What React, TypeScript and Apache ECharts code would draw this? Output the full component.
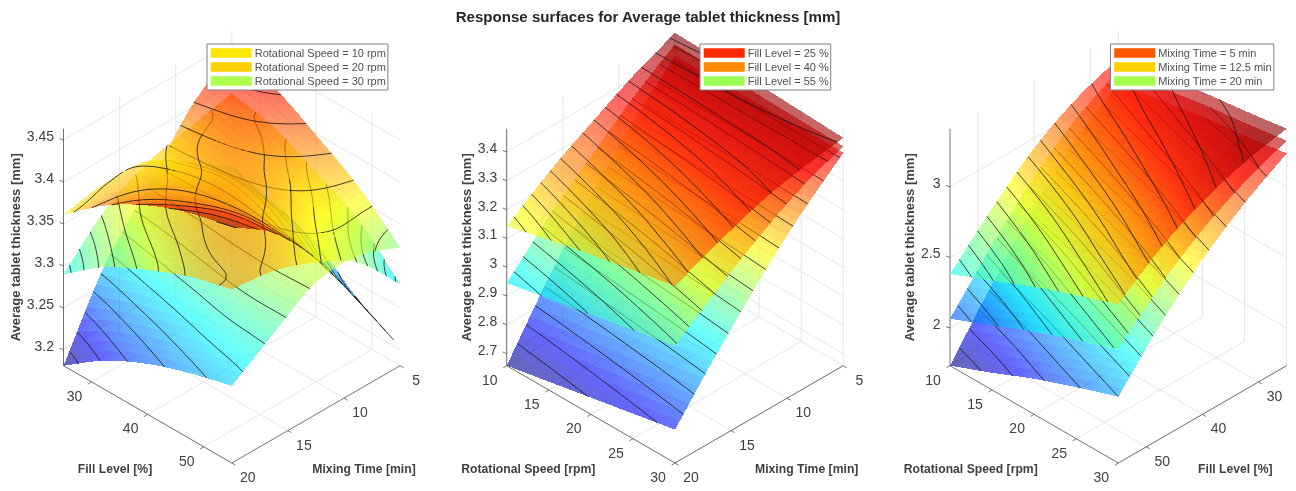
import React, { useEffect, useRef } from "react";
import * as echarts from "echarts";

// ---------- axis ticks ----------
const fillTicks = [30, 40, 50];
const mixTicks = [5, 10, 15, 20];
const speedTicks = [10, 15, 20, 25, 30];
const zTicks1 = [3.2, 3.25, 3.3, 3.35, 3.4, 3.45];
const zTicks2 = [2.7, 2.8, 2.9, 3, 3.1, 3.2, 3.3, 3.4];
const zTicks3 = [2, 2.5, 3];

// ---------- panel 1: rows mix 20..5, columns fill 25..55 ----------
const speed30Rows = [
  [3.181, 3.216, 3.241, 3.259, 3.273],
  [3.274, 3.287, 3.297, 3.305, 3.307],
  [3.335, 3.337, 3.34, 3.34, 3.338],
  [3.4, 3.39, 3.375, 3.358, 3.341],
  [3.44, 3.426, 3.398, 3.366, 3.322],
];
const speed10Rows = [
  [3.29, 3.3275, 3.353, 3.374, 3.388],
  [3.338, 3.363, 3.38, 3.39, 3.381],
  [3.365, 3.38, 3.392, 3.38, 3.362],
  [3.378, 3.392, 3.38, 3.358, 3.333],
  [3.39, 3.378, 3.353, 3.326, 3.278],
];
const speed20Rows = [
  [3.361, 3.401, 3.43, 3.45, 3.462],
  [3.37, 3.39, 3.405, 3.42, 3.426],
  [3.367, 3.375, 3.378, 3.375, 3.367],
  [3.336, 3.345, 3.335, 3.31, 3.288],
  [3.303, 3.288, 3.269, 3.231, 3.203],
];
const speed30Levels = [3.194, 3.212, 3.23, 3.249, 3.265, 3.282, 3.3, 3.317, 3.335, 3.352, 3.37, 3.387, 3.405, 3.422];
const speed10Levels = [3.284, 3.297, 3.309, 3.322, 3.334, 3.347, 3.359, 3.372, 3.384];
const speed20Levels = [3.216, 3.233, 3.25, 3.268, 3.285, 3.302, 3.32, 3.337, 3.354, 3.371, 3.389, 3.406, 3.423, 3.441, 3.458];

// ---------- panel 2: rows mix 20..5, columns speed 10..30 ----------
const fill55Rows = [
  [2.658, 2.687, 2.716, 2.745, 2.774],
  [2.88, 2.899, 2.918, 2.936, 2.955],
  [3.075, 3.087, 3.099, 3.11, 3.122],
  [3.25, 3.255, 3.26, 3.265, 3.27],
  [3.395, 3.396, 3.396, 3.397, 3.397],
];
const fill40Rows = [
  [2.945, 2.975, 3.005, 3.035, 3.064],
  [3.09, 3.111, 3.132, 3.154, 3.175],
  [3.215, 3.23, 3.245, 3.26, 3.275],
  [3.335, 3.341, 3.348, 3.354, 3.36],
  [3.436, 3.432, 3.428, 3.424, 3.42],
];
const fill25Rows = [
  [3.142, 3.18, 3.212, 3.243, 3.272],
  [3.245, 3.268, 3.29, 3.313, 3.335],
  [3.33, 3.345, 3.36, 3.375, 3.39],
  [3.41, 3.414, 3.418, 3.421, 3.425],
  [3.476, 3.47, 3.464, 3.457, 3.449],
];
const fill55Levels = [2.714, 2.762, 2.81, 2.858, 2.906, 2.953, 3.001, 3.051, 3.099, 3.147, 3.195, 3.243, 3.291, 3.339, 3.387];
const fill40Levels = [2.97, 3.003, 3.036, 3.069, 3.102, 3.135, 3.168, 3.201, 3.234, 3.267, 3.3, 3.333, 3.366, 3.399, 3.432];
const fill25Levels = [3.16, 3.182, 3.204, 3.226, 3.248, 3.27, 3.292, 3.314, 3.336, 3.358, 3.38, 3.402, 3.424, 3.446, 3.468];

// ---------- panel 3: rows fill 55..25, columns speed 10..30 ----------
const mix20Rows = [
  [1.734, 1.856, 1.985, 2.098, 2.204],
  [2.139, 2.241, 2.342, 2.444, 2.545],
  [2.519, 2.597, 2.675, 2.752, 2.83],
  [2.816, 2.876, 2.936, 2.995, 3.055],
  [3.044, 3.098, 3.152, 3.192, 3.237],
];
const mix12Rows = [
  [2.066, 2.191, 2.32, 2.433, 2.541],
  [2.414, 2.516, 2.617, 2.719, 2.82],
  [2.729, 2.807, 2.885, 2.962, 3.04],
  [2.966, 3.026, 3.086, 3.145, 3.205],
  [3.134, 3.188, 3.242, 3.282, 3.327],
];
const mix5Rows = [
  [2.383, 2.508, 2.637, 2.75, 2.859],
  [2.674, 2.776, 2.877, 2.979, 3.08],
  [2.929, 3.007, 3.085, 3.162, 3.24],
  [3.106, 3.166, 3.226, 3.285, 3.345],
  [3.219, 3.273, 3.327, 3.367, 3.412],
];
const mix20Levels = [1.824, 1.919, 2.014, 2.109, 2.204, 2.299, 2.394, 2.489, 2.584, 2.679, 2.774, 2.869, 2.964, 3.059, 3.154];
const mix12Levels = [2.13, 2.21, 2.29, 2.37, 2.45, 2.53, 2.61, 2.69, 2.77, 2.85, 2.93, 3.01, 3.09, 3.17, 3.25];
const mix5Levels = [2.448, 2.512, 2.576, 2.64, 2.704, 2.768, 2.832, 2.896, 2.96, 3.024, 3.088, 3.152, 3.216, 3.28, 3.344];

// ---------- legends ----------
const legendNames1 = ["Rotational Speed = 10 rpm", "Rotational Speed = 20 rpm", "Rotational Speed = 30 rpm"];
const legendNames2 = ["Fill Level = 25 %", "Fill Level = 40 %", "Fill Level = 55 %"];
const legendNames3 = ["Mixing Time = 5 min", "Mixing Time = 12.5 min", "Mixing Time = 20 min"];

const FONT = '"Liberation Sans", Arial, sans-serif';
const TEXT = "#404040";
const SUB = 36;
const K = 2.435; // box height over the floor's half depth
const ALPHA = 0.6;

type Panel = {
  left: number;
  zMin: number;
  zMax: number;
  zTicks: number[];
  aTicks: number[];
  aPos: (v: number) => number;
  bTicks: number[];
  bPos: (v: number) => number;
  zTitleX: number;
  aTitle: string;
  aTitleX: number;
  bTitle: string;
  bTitleX: number;
  surfaces: { name: string; color: string; rows: number[][]; levels: number[] }[];
  legendNames: string[];
  legendLeft: number;
};

const fillA = (v: number) => (v - 25) / 30;
const fillB = (v: number) => (55 - v) / 30;
const mixB = (v: number) => (20 - v) / 15;
const speedA = (v: number) => (v - 10) / 20;

const panels: Panel[] = [
  {
    left: 63.5, zMin: 3.181, zMax: 3.4635, zTicks: zTicks1,
    aTicks: fillTicks, aPos: fillA, bTicks: mixTicks, bPos: mixB,
    zTitleX: 15, aTitle: "Fill Level [%]", aTitleX: 115, bTitle: "Mixing Time [min]", bTitleX: 364,
    surfaces: [
      { name: legendNames1[2], color: "#ADFF4B", rows: speed30Rows, levels: speed30Levels },
      { name: legendNames1[0], color: "#FFE600", rows: speed10Rows, levels: speed10Levels },
      { name: legendNames1[1], color: "#FFD000", rows: speed20Rows, levels: speed20Levels },
    ],
    legendNames: legendNames1, legendLeft: 207,
  },
  {
    left: 506.7, zMin: 2.658, zMax: 3.481, zTicks: zTicks2,
    aTicks: speedTicks, aPos: speedA, bTicks: mixTicks, bPos: mixB,
    zTitleX: 466, aTitle: "Rotational Speed [rpm]", aTitleX: 528.3, bTitle: "Mixing Time [min]", bTitleX: 806.7,
    surfaces: [
      { name: legendNames2[2], color: "#9BFF55", rows: fill55Rows, levels: fill55Levels },
      { name: legendNames2[1], color: "#FF8C00", rows: fill40Rows, levels: fill40Levels },
      { name: legendNames2[0], color: "#FF2A00", rows: fill25Rows, levels: fill25Levels },
    ],
    legendNames: legendNames2, legendLeft: 700,
  },
  {
    left: 950, zMin: 1.734, zMax: 3.412, zTicks: zTicks3,
    aTicks: speedTicks, aPos: speedA, bTicks: fillTicks, bPos: fillB,
    zTitleX: 909.3, aTitle: "Rotational Speed [rpm]", aTitleX: 970.7, bTitle: "Fill Level [%]", bTitleX: 1235.3,
    surfaces: [
      { name: legendNames3[2], color: "#A6FF4D", rows: mix20Rows, levels: mix20Levels },
      { name: legendNames3[1], color: "#FFD000", rows: mix12Rows, levels: mix12Levels },
      { name: legendNames3[0], color: "#FF5500", rows: mix5Rows, levels: mix5Levels },
    ],
    legendNames: legendNames3, legendLeft: 1110.5,
  },
];

function jet(t: number, alpha: number) {
  const c = (v: number) => Math.round(255 * Math.max(0, Math.min(1, v)));
  const x = Math.max(0, Math.min(1, t));
  return `rgba(${c(1.5 - Math.abs(4 * x - 3))},${c(1.5 - Math.abs(4 * x - 2))},${c(1.5 - Math.abs(4 * x - 1))},${alpha})`;
}

// Smooth shading between the read grid nodes, for drawing only.
function spline(v: number[], t: number) {
  const n = v.length - 1;
  const s = Math.min(n - 1e-9, Math.max(0, t * n));
  const i = Math.floor(s);
  const f = s - i;
  const p1 = v[i];
  const p2 = v[i + 1];
  const p0 = i > 0 ? v[i - 1] : 2 * p1 - p2;
  const p3 = i + 2 <= n ? v[i + 2] : 2 * p2 - p1;
  return 0.5 * (2 * p1 + (p2 - p0) * f + (2 * p0 - 5 * p1 + 4 * p2 - p3) * f * f + (3 * p1 - p0 - 3 * p2 + p3) * f * f * f);
}

function refine(rows: number[][]) {
  const mesh: number[][] = [];
  for (let i = 0; i <= SUB; i++) {
    const b = i / SUB;
    const line: number[] = [];
    for (let j = 0; j <= SUB; j++) {
      const a = j / SUB;
      line.push(spline(rows.map((r) => spline(r, a)), b));
    }
    mesh.push(line);
  }
  return mesh;
}

// One short contour piece per mesh cell crossed: [a0, b0, a1, b1].
function contourPieces(mesh: number[][], level: number) {
  const out: number[][] = [];
  const frac = (u: number, v: number) => (level - u) / (v - u);
  for (let i = 0; i < SUB; i++) {
    for (let j = 0; j < SUB; j++) {
      const v00 = mesh[i][j], v01 = mesh[i][j + 1], v10 = mesh[i + 1][j], v11 = mesh[i + 1][j + 1];
      const cross: number[][] = [];
      if (v00 >= level !== v01 >= level) cross.push([(j + frac(v00, v01)) / SUB, i / SUB]);
      if (v01 >= level !== v11 >= level) cross.push([(j + 1) / SUB, (i + frac(v01, v11)) / SUB]);
      if (v10 >= level !== v11 >= level) cross.push([(j + frac(v10, v11)) / SUB, (i + 1) / SUB]);
      if (v00 >= level !== v10 >= level) cross.push([j / SUB, (i + frac(v00, v10)) / SUB]);
      for (let c = 0; c + 1 < cross.length; c += 2) {
        out.push([cross[c][0], cross[c][1], cross[c + 1][0], cross[c + 1][1]]);
      }
    }
  }
  return out;
}

function buildOption() {
  const grid: any[] = [];
  const xAxis: any[] = [];
  const yAxis: any[] = [];
  const series: any[] = [];
  const legend: any[] = [];

  panels.forEach((P, pi) => {
    grid.push({ left: P.left, width: 336.6, top: 33, height: 430, show: false });
    xAxis.push({ gridIndex: pi, type: "value", min: 0, max: 2, show: false });
    yAxis.push({ gridIndex: pi, type: "value", min: -1, max: 3.418, show: false });
    const zn = (z: number) => (z - P.zMin) / (P.zMax - P.zMin);
    const proj = (a: number, b: number, z: number) => [a + b, zn(z) * K + b - a];
    const depth = (a: number, b: number, z: number) => (a - b) * 137.6 + zn(z) * 167.4;
    const base = { type: "custom", xAxisIndex: pi, yAxisIndex: pi, silent: true, progressive: 0, animation: false, clip: false, tooltip: { show: false } };

    // walls and floor grid
    const gridLines: number[][][] = [];
    P.aTicks.forEach((t) => {
      const a = P.aPos(t);
      gridLines.push([proj(a, 0, P.zMin), proj(a, 1, P.zMin)]);
      gridLines.push([proj(a, 1, P.zMin), proj(a, 1, P.zMax)]);
    });
    P.bTicks.forEach((t) => {
      const b = P.bPos(t);
      gridLines.push([proj(0, b, P.zMin), proj(1, b, P.zMin)]);
      gridLines.push([proj(0, b, P.zMin), proj(0, b, P.zMax)]);
    });
    P.zTicks.forEach((t) => {
      gridLines.push([proj(0, 0, t), proj(0, 1, t)]);
      gridLines.push([proj(0, 1, t), proj(1, 1, t)]);
    });
    series.push({
      ...base,
      name: `walls ${pi}`,
      data: gridLines.map((l) => l[0]),
      renderItem: (params: any, api: any) => {
        const l = gridLines[params.dataIndex];
        const p0 = api.coord(l[0]);
        const p1 = api.coord(l[1]);
        return { type: "line", shape: { x1: p0[0], y1: p0[1], x2: p1[0], y2: p1[1] }, style: { stroke: "#e0e0e0", lineWidth: 0.8 } };
      },
    });

    // axis lines, ticks, tick labels
    type Mark = { from: number[]; to?: number[]; off?: number[]; text?: string; align?: string };
    const marks: Mark[] = [
      { from: proj(0, 0, P.zMin), to: proj(1, 0, P.zMin) },
      { from: proj(1, 0, P.zMin), to: proj(1, 1, P.zMin) },
      { from: proj(0, 0, P.zMin), to: proj(0, 0, P.zMax) },
    ];
    P.zTicks.forEach((t) => {
      marks.push({ from: proj(0, 0, t), off: [-4, -1.5] });
      marks.push({ from: proj(0, 0, t), off: [-9.5, -4], text: String(t), align: "right" });
    });
    P.aTicks.forEach((t) => {
      marks.push({ from: proj(P.aPos(t), 0, P.zMin), off: [-3.5, 2.2] });
      marks.push({ from: proj(P.aPos(t), 0, P.zMin), off: [-17, 14], text: String(t), align: "center" });
    });
    P.bTicks.forEach((t) => {
      marks.push({ from: proj(1, P.bPos(t), P.zMin), off: [3.5, 2.2] });
      marks.push({ from: proj(1, P.bPos(t), P.zMin), off: [16, 14], text: String(t), align: "center" });
    });
    series.push({
      ...base,
      name: `axes ${pi}`,
      data: marks.map((m) => m.from),
      renderItem: (params: any, api: any) => {
        const m = marks[params.dataIndex];
        const p0 = api.coord(m.from);
        if (m.text !== undefined) {
          return {
            type: "text",
            x: p0[0] + m.off![0],
            y: p0[1] + m.off![1],
            style: { text: m.text, fill: TEXT, fontSize: 14, fontFamily: FONT, align: m.align, verticalAlign: "middle" },
          };
        }
        const p1 = m.to ? api.coord(m.to) : [p0[0] + m.off![0], p0[1] + m.off![1]];
        return { type: "line", shape: { x1: p0[0], y1: p0[1], x2: p1[0], y2: p1[1] }, style: { stroke: "#505050", lineWidth: 0.8 } };
      },
    });

    // All surface cells and contour pieces of a panel, painted back to front.
    type Item = { pts: number[][]; color?: string; d: number };
    const items: Item[] = [];
    P.surfaces.forEach((S) => {
      const mesh = refine(S.rows);
      for (let i = 0; i < SUB; i++) {
        for (let j = 0; j < SUB; j++) {
          const a0 = j / SUB, a1 = (j + 1) / SUB, b0 = i / SUB, b1 = (i + 1) / SUB;
          const zc = (mesh[i][j] + mesh[i][j + 1] + mesh[i + 1][j] + mesh[i + 1][j + 1]) / 4;
          items.push({
            pts: [proj(a0, b0, mesh[i][j]), proj(a1, b0, mesh[i][j + 1]), proj(a1, b1, mesh[i + 1][j + 1]), proj(a0, b1, mesh[i + 1][j])],
            color: jet(zn(zc), ALPHA),
            d: depth((a0 + a1) / 2, (b0 + b1) / 2, zc),
          });
        }
      }
      S.levels.forEach((lv) => {
        contourPieces(mesh, lv).forEach((q) => {
          items.push({
            pts: [proj(q[0], q[1], lv), proj(q[2], q[3], lv)],
            d: depth((q[0] + q[2]) / 2, (q[1] + q[3]) / 2, lv) + 6,
          });
        });
      });
      // Named, empty: gives the legend its entry and colour.
      series.push({ ...base, name: S.name, itemStyle: { color: S.color }, data: [], renderItem: () => null });
    });
    items.sort((p, q) => p.d - q.d);
    series.push({
      ...base,
      name: `surfaces ${pi}`,
      data: items.map((c) => c.pts[0]),
      renderItem: (params: any, api: any) => {
        const c = items[params.dataIndex];
        if (c.color) {
          return { type: "polygon", shape: { points: c.pts.map((p) => api.coord(p)) }, style: { fill: c.color } };
        }
        const p0 = api.coord(c.pts[0]);
        const p1 = api.coord(c.pts[1]);
        return { type: "line", shape: { x1: p0[0], y1: p0[1], x2: p1[0], y2: p1[1] }, style: { stroke: "#111111", lineWidth: 0.8 } };
      },
    });

    legend.push({
      data: P.legendNames,
      selectedMode: false,
      orient: "vertical",
      left: P.legendLeft,
      top: 44,
      icon: "rect",
      itemWidth: 41,
      itemHeight: 9.5,
      itemGap: 3,
      padding: [3.5, 2, 3.5, 3.7],
      backgroundColor: "#ffffff",
      borderColor: "#808080",
      borderWidth: 1,
      borderRadius: 0,
      textStyle: { fontFamily: FONT, fontSize: 11, color: "#505050", padding: [0, 0, 0, -2] },
    });
  });

  const graphic: any[] = [];
  const axisTitle = (text: string, x: number, y: number, rotation = 0, size = 12.2) => ({
    type: "text",
    x,
    y,
    rotation,
    silent: true,
    style: { text, fill: TEXT, fontSize: size, fontWeight: "bold", fontFamily: FONT, align: "center", verticalAlign: "middle" },
  });
  panels.forEach((P) => {
    graphic.push(axisTitle("Average tablet thickness [mm]", P.zTitleX, 247.3, Math.PI / 2, 13));
    graphic.push(axisTitle(P.aTitle, P.aTitleX, 469));
    graphic.push(axisTitle(P.bTitle, P.bTitleX, 469));
  });

  return {
    animation: false,
    backgroundColor: "#ffffff",
    title: {
      text: "Response surfaces for Average tablet thickness [mm]",
      left: 643,
      top: 4,
      textAlign: "center",
      textStyle: { fontFamily: FONT, fontSize: 15.1, fontWeight: "bold", color: "#262626" },
    },
    grid,
    xAxis,
    yAxis,
    legend,
    series,
    graphic,
  };
}

export default function App() {
  const ref = useRef<HTMLDivElement>(null);
  useEffect(() => {
    document.body.style.margin = "0";
    const chart = echarts.init(ref.current!, null, { renderer: "svg", width: 1296, height: 491 });
    chart.setOption(buildOption() as any);
    return () => chart.dispose();
  }, []);
  return (
    <>
      <style>{`#surface-chart svg path[fill-opacity]{shape-rendering:crispEdges}`}</style>
      <div id="surface-chart" ref={ref} style={{ width: 1296, height: 491, filter: "blur(0.4px)" }} />
    </>
  );
}
